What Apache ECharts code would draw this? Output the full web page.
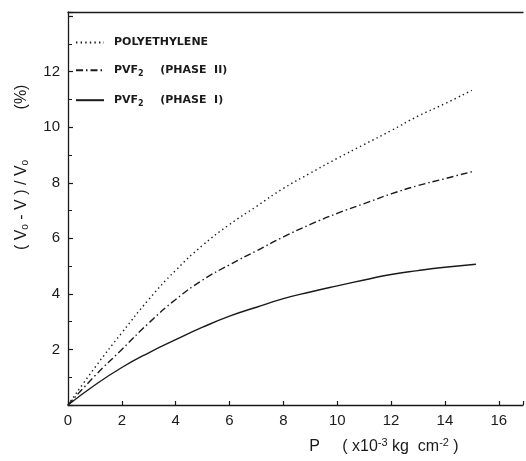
<!DOCTYPE html>
<html>
<head>
<meta charset="utf-8">
<script src="https://cdn.jsdelivr.net/npm/echarts@6/dist/echarts.min.js"></script>
<style>html,body{margin:0;padding:0;background:#fff}#c{width:526px;height:461px}</style>
</head>
<body>
<div id="c"></div>
<script>
// Pressure P (x10^-3 kg cm^-2)
var pressure = [0, 1, 2, 3, 4, 5, 6, 7, 8, 9, 10, 11, 12, 13, 14, 15];
var pressurePhaseI = [0, 1, 2, 3, 4, 5, 6, 7, 8, 9, 10, 11, 12, 13, 14, 15.15];
// (V0 - V)/V0 in %
var polyethylene = [0, 1.35, 2.6, 3.8, 4.85, 5.75, 6.5, 7.15, 7.8, 8.35, 8.88, 9.38, 9.88, 10.4, 10.85, 11.33];
var pvf2PhaseII = [0, 1.05, 2.0, 2.95, 3.8, 4.5, 5.05, 5.55, 6.05, 6.5, 6.9, 7.25, 7.6, 7.9, 8.15, 8.4];
var pvf2PhaseI = [0, 0.72, 1.35, 1.88, 2.35, 2.8, 3.2, 3.52, 3.83, 4.07, 4.29, 4.5, 4.7, 4.84, 4.96, 5.07];
var seriesNames = ['POLYETHYLENE', 'PVF2 (PHASE II)', 'PVF2 (PHASE I)'];
var xTickLabels = ['0', '2', '4', '6', '8', '10', '12', '14', '16'];
var yTickLabels = ['2', '4', '6', '8', '10', '12'];

function pairs(xs, ys) { return xs.map(function (x, i) { return [x, ys[i]]; }); }

var FONT = 'Liberation Sans';
var INK = '#1a1a1a';
var chart = echarts.init(document.getElementById('c'), null, {renderer: 'canvas'});
chart.setOption({
  backgroundColor: '#fff',
  animation: false,
  grid: {left: 68, top: 12, bottom: 56, right: 0, containLabel: false},
  legend: {
    data: seriesNames,
    orient: 'vertical',
    left: 75,
    top: 37,
    padding: 0,
    itemWidth: 28,
    itemHeight: 14,
    itemGap: 14,
    selectedMode: false,
    itemStyle: {opacity: 0},
    formatter: function (name) {
      if (name === seriesNames[0]) return '{t|POLYETHYLENE}';
      if (name === seriesNames[1]) return '{t|PVF}{s|2}{t|   (PHASE  II)}';
      return '{t|PVF}{s|2}{t|   (PHASE  I)}';
    },
    textStyle: {
      rich: {
        t: {fontFamily: 'DejaVu Sans', fontSize: 11, fontWeight: 'bold', color: INK, padding: [0, 0, 0, 5], lineHeight: 14},
        s: {fontFamily: 'DejaVu Sans', fontSize: 8, fontWeight: 'bold', color: INK, padding: [8, 0, 0, 0], lineHeight: 14}
      }
    }
  },
  xAxis: [{
    type: 'value', min: 0, max: 16.9, interval: 2,
    axisLine: {show: true, onZero: false, lineStyle: {color: INK, width: 1.3}},
    axisTick: {show: true, inside: true, length: 4, lineStyle: {color: INK, width: 1.2}},
    axisLabel: {
      color: INK, fontFamily: FONT, fontSize: 15, margin: 8,
      formatter: function (v) { var s = String(v); return xTickLabels.indexOf(s) >= 0 ? s : ''; }
    },
    splitLine: {show: false}
  }, {
    type: 'value', position: 'top', min: 0, max: 16.9,
    axisLine: {show: true, onZero: false, lineStyle: {color: INK, width: 1.3}},
    axisTick: {show: false}, axisLabel: {show: false}, splitLine: {show: false}
  }],
  yAxis: {
    type: 'value', min: 0, max: 14.15, interval: 2,
    axisLine: {show: true, onZero: false, lineStyle: {color: INK, width: 1.3}},
    axisTick: {show: true, inside: true, length: 5, lineStyle: {color: INK, width: 1.2}},
    minorTick: {show: true, splitNumber: 2, length: 4, lineStyle: {color: INK, width: 1}},
    axisLabel: {
      color: INK, fontFamily: FONT, fontSize: 15, margin: 8,
      formatter: function (v) { var s = String(v); return yTickLabels.indexOf(s) >= 0 ? s : ''; }
    },
    splitLine: {show: false}
  },
  series: [{
    name: seriesNames[0], type: 'line', data: pairs(pressure, polyethylene),
    smooth: true, symbol: 'none', showSymbol: false,
    lineStyle: {color: INK, width: 1.4, type: [1.4, 3.2]}, itemStyle: {color: INK}
  }, {
    name: seriesNames[1], type: 'line', data: pairs(pressure, pvf2PhaseII),
    smooth: true, symbol: 'none', showSymbol: false,
    lineStyle: {color: INK, width: 1.4, type: [7, 3, 1.5, 3]}, itemStyle: {color: INK}
  }, {
    name: seriesNames[2], type: 'line', data: pairs(pressurePhaseI, pvf2PhaseI),
    smooth: true, symbol: 'none', showSymbol: false,
    lineStyle: {color: INK, width: 1.4, type: 'solid'}, itemStyle: {color: INK}
  }],
  graphic: [{
    type: 'text', x: 22, y: 205, rotation: Math.PI / 2,
    style: {
      text: '( V{s|o} - V ) / V{s|o}',
      fill: INK, font: '16px "Liberation Sans"', align: 'center', verticalAlign: 'middle',
      rich: {s: {fontSize: 10, fontFamily: FONT, fill: INK, padding: [7, 0, 0, 0]}}
    }
  }, {
    type: 'text', x: 22, y: 97, rotation: Math.PI / 2,
    style: {text: '(%)', fill: INK, font: '16px "Liberation Sans"', align: 'center', verticalAlign: 'middle'}
  }, {
    type: 'text', x: 384, y: 447,
    style: {
      text: 'P     ( x10{p|-3} kg  cm{p|-2} )',
      fill: INK, font: '16px "Liberation Sans"', align: 'center', verticalAlign: 'middle',
      rich: {p: {fontSize: 11, fontFamily: FONT, fill: INK, padding: [0, 0, 9, 0]}}
    }
  }]
});
</script>
</body>
</html>
